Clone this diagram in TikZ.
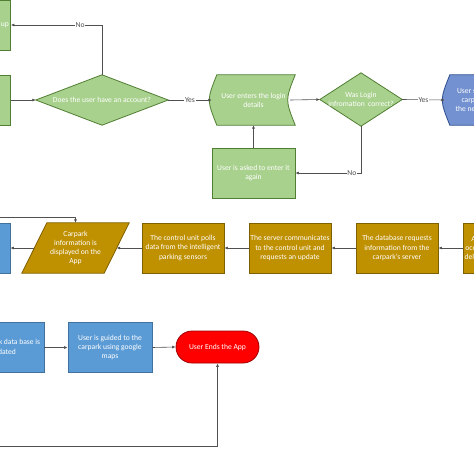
\documentclass[tikz,border=0pt]{standalone}
\usepackage{fontspec}
\setmainfont{Carlito}
\usetikzlibrary{arrows.meta,backgrounds,calc}
\definecolor{gfill}{HTML}{A9D18E}
\definecolor{gline}{HTML}{507E32}
\definecolor{ofill}{HTML}{BF9000}
\definecolor{oline}{HTML}{7F6000}
\definecolor{bfill}{HTML}{5B9BD5}
\definecolor{bline}{HTML}{41719C}
\definecolor{pfill}{HTML}{7391D0}
\definecolor{pline}{HTML}{2F4F8F}
\definecolor{rfill}{HTML}{FF0000}
\definecolor{rline}{HTML}{A00000}
\definecolor{cline}{HTML}{505050}
\begin{document}
\begin{tikzpicture}[x=1pt,y=-1pt,
  every node/.style={font=\fontsize{7.6}{9.2}\selectfont},
  holder/.style={inner sep=0pt, minimum width=82pt, minimum height=50pt, align=center, text=white},
  greenbox/.style={holder, draw=gline, fill=gfill, line width=0.8pt},
  goldbox/.style={holder, draw=oline, fill=ofill, line width=0.8pt},
  bluebox/.style={holder, draw=bline, fill=bfill, line width=0.8pt},
  gshape/.style={draw=gline, fill=gfill, line width=0.8pt},
  oshape/.style={draw=oline, fill=ofill, line width=0.8pt},
  pshape/.style={draw=pline, fill=pfill, line width=0.8pt},
  conn/.style={draw=cline, line width=0.6pt, -{Latex[length=3.5pt,width=3pt]}},
  lab/.style={fill=white, inner sep=0.8pt, text=cline}
]
\useasboundingbox (0,0) rectangle (474,474);

% top row
\node[greenbox, minimum width=75pt] (G1) at (-27,25) {User is asked to sign up};
\node[greenbox] (G2) at (-30.5,100) {};
\node[holder, minimum width=132pt] (D1) at (102,100) {Does the user have an account?};
\node[holder, minimum width=83pt] (S1) at (253.5,100) {User enters the login\\details};
\node[holder, minimum height=53pt] (D2) at (361,99.5) {Was Login\\infromation\ \ correct?};
\node[holder, minimum width=83pt] (S2) at (486.5,100) {User searches for a\\carpark space in\\the nearest location};
\node[greenbox, minimum width=83pt] (B1) at (253.5,173) {User is asked to enter it\\again};

% middle row
\node[bluebox] (B2) at (-31,248) {};
\node[holder, minimum width=107pt] (P1) at (75.5,248) {Carpark\\information is\\displayed on the\\App};
\node[goldbox] (C1) at (183,248) {The control unit polls\\data from the intelligent\\parking sensors};
\node[goldbox] (C2) at (290,248) {The server communicates\\to the control unit and\\requests an update};
\node[goldbox] (C3) at (397,248) {The database requests\\information from the\\carpark’s server};
\node[goldbox] (C4) at (504,248) {A request for carpark\\occupancy information is\\delivered to the database};

% bottom row
\node[bluebox] (B3) at (3,347.5) {The carpark data base is\\updated};
\node[bluebox, minimum width=84pt] (B4) at (110,347.5) {User is guided to the\\carpark using google\\maps};
\node[holder, draw=rline, fill=rfill, line width=0.8pt, rounded corners=16pt, minimum width=83pt, minimum height=32pt] (T) at (217.5,347) {User Ends the App};

\begin{pgfonlayer}{background}
\fill[white] (0,0) rectangle (474,474);
\draw[gshape] (D1.north) -- (D1.east) -- (D1.south) -- (D1.west) -- cycle;
\draw[gshape] (D2.north) -- (D2.east) -- (D2.south) -- (D2.west) -- cycle;
\draw[gshape] ([xshift=5pt]S1.north west) -- (S1.north east)
   .. controls ([xshift=-10pt]S1.east) .. (S1.south east)
   -- ([xshift=5pt]S1.south west)
   .. controls ([xshift=-5pt]S1.west) .. ([xshift=5pt]S1.north west) -- cycle;
\draw[pshape] ([xshift=5pt]S2.north west) -- (S2.north east)
   .. controls ([xshift=-10pt]S2.east) .. (S2.south east)
   -- ([xshift=5pt]S2.south west)
   .. controls ([xshift=-5pt]S2.west) .. ([xshift=5pt]S2.north west) -- cycle;
\draw[oshape] ([xshift=25pt]P1.north west) -- (P1.north east)
   -- ([xshift=-25pt]P1.south east) -- (P1.south west) -- cycle;
\end{pgfonlayer}

% connectors
\draw[conn] (D1.north) |- node[lab, pos=0.62] {No} (G1.east);
\draw[conn] (G2.east) -- (D1.west);
\draw[conn] (D1.east) -- node[lab] {Yes} (S1.west);
\draw[conn] ([xshift=-5pt]S1.east) -- (D2.west);
\draw[conn] (D2.east) -- node[lab] {Yes} (S2.west);
\draw[conn] (D2.south) |- node[lab, pos=0.57] {No} (B1.east);
\draw[conn] (B1.north) -- (S1.south);
\draw[conn] ([xshift=12.5pt]P1.west) -- (B2.east);
\draw[conn] (C1.west) -- ([xshift=-12.5pt]P1.east);
\draw[conn] (C2.west) -- (C1.east);
\draw[conn] (C3.west) -- (C2.east);
\draw[conn] (C4.west) -- (C3.east);
\coordinate (inP) at (-5,217.5);
\draw[conn] (inP) -| (P1.north);
\draw[conn] (B3.east) -- (B4.west);
\draw[conn] (B4.east) -- (T.west);
\coordinate (inT) at (-5,446);
\draw[conn] (inT) -| (T.south);
\end{tikzpicture}
\end{document}
